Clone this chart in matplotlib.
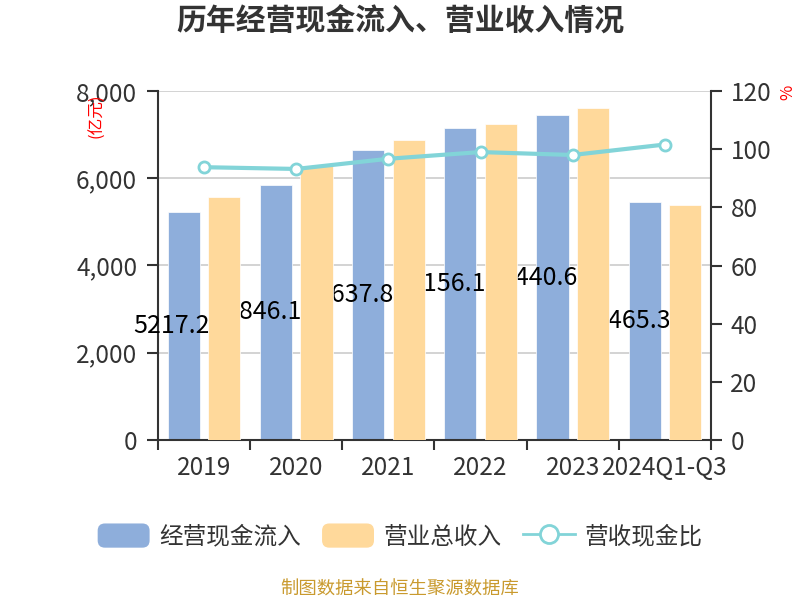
import numpy as np
import matplotlib
matplotlib.use('Agg')
import matplotlib.pyplot as plt
from matplotlib.patches import Patch, FancyBboxPatch
from matplotlib.lines import Line2D
from matplotlib.legend_handler import HandlerPatch
from matplotlib.ticker import FuncFormatter

plt.rcParams['font.family'] = ['Noto Sans CJK SC', 'DejaVu Sans']

# 数据
years = ['2019', '2020', '2021', '2022', '2023', '2024Q1-Q3']
cash_in = [5217.20, 5846.16, 6637.87, 7156.19, 7440.68, 5465.30]
revenue = [5570, 6280, 6870, 7240, 7605, 5385]
ratio = [93.8, 93.2, 96.7, 99.0, 98.0, 101.6]
cash_labels = ['5217.20', '5846.16', '6637.87', '7156.19', '7440.68', '5465.30']

c_blue = '#8eaedb'
c_orange = '#ffd99b'
c_teal = '#82d4d8'
c_axis = '#333333'

fig = plt.figure(figsize=(8, 6), dpi=100)
ax = fig.add_axes([158/800, 160/600, (711-158)/800, (440-91)/600])

x = np.arange(len(years))
w = 0.35
off = 0.22
ax.bar(x - off, cash_in, w, color=c_blue, edgecolor='white', linewidth=0.5, zorder=2)
ax.bar(x + off, revenue, w, color=c_orange, edgecolor='white', linewidth=0.5, zorder=4)

# 数值标签（被后面的柱子遮挡）
for i in range(len(years)):
    ax.text(x[i] - off - 0.55, cash_in[i] / 2, cash_labels[i], ha='left', va='center',
            fontsize=18, color='black', zorder=3)

ax.set_xlim(-0.5, len(years) - 0.5)
ax.set_ylim(0, 8000)
ax.set_yticks([0, 2000, 4000, 6000, 8000])
ax.yaxis.set_major_formatter(FuncFormatter(lambda v, p: format(int(v), ',')))
ax.set_xticks(x)
ax.set_xticklabels(years)
ax.set_xticks(np.arange(-0.5, len(years)), minor=True)
ax.tick_params(axis='x', which='major', length=0, pad=11, labelsize=17.5, labelcolor=c_axis)
ax.tick_params(axis='x', which='minor', length=7, width=1.5, color=c_axis)
ax.tick_params(axis='y', length=8, width=1.5, color=c_axis, labelsize=17.5, labelcolor=c_axis, pad=7)
ax.yaxis.grid(True, color='#cccccc', linewidth=1.2, zorder=0)
ax.set_axisbelow(True)
for s in ['top', 'right']:
    ax.spines[s].set_visible(False)
for s in ['left', 'bottom']:
    ax.spines[s].set_color(c_axis)
    ax.spines[s].set_linewidth(1.5)

ax2 = ax.twinx()
ax2.plot(x, ratio, color=c_teal, linewidth=3, marker='o', markersize=8,
         markerfacecolor='white', markeredgecolor=c_teal, markeredgewidth=2, zorder=5)
ax2.set_ylim(0, 120)
ax2.set_yticks(np.arange(0, 121, 20))
ax2.tick_params(axis='y', length=8, width=1.5, color=c_axis, labelsize=17.5, labelcolor=c_axis, pad=6)
for s in ['top', 'left', 'bottom']:
    ax2.spines[s].set_visible(False)
ax2.spines['right'].set_color(c_axis)
ax2.spines['right'].set_linewidth(1.5)

# 标题与单位
fig.text(0.5, 1 - 22/600, '历年经营现金流入、营业收入情况', ha='center', va='center',
         fontsize=21.5, fontweight='bold', color=c_axis)
fig.text(97/800, 1 - 116/600, '(亿元)', ha='center', va='center', rotation=90,
         fontsize=12, color='red')
fig.text(788/800, 1 - 92/600, '%', ha='center', va='center', rotation=90,
         fontsize=12, color='red')
fig.text(0.5, 1 - 590/600, '制图数据来自恒生聚源数据库', ha='center', va='center',
         fontsize=13.2, color='#c99a2e')


class RoundHandler(HandlerPatch):
    def create_artists(self, legend, orig_handle, xdescent, ydescent, width, height, fontsize, trans):
        p = FancyBboxPatch((-xdescent, -ydescent), width, height,
                           boxstyle='round,pad=0,rounding_size=%f' % (height * 0.3),
                           facecolor=orig_handle.get_facecolor(), edgecolor='none', transform=trans)
        return [p]


handles = [Patch(facecolor=c_blue), Patch(facecolor=c_orange),
           Line2D([], [], color=c_teal, linewidth=2, marker='o', markersize=13,
                  markerfacecolor='white', markeredgecolor=c_teal, markeredgewidth=2)]
labels = ['经营现金流入', '营业总收入', '营收现金比']
fig.legend(handles, labels, loc='center', bbox_to_anchor=(0.5, 1 - 536/600), ncol=3,
           frameon=False, fontsize=17, handlelength=2.2, handleheight=1.2,
           handletextpad=0.4, columnspacing=0.9, labelcolor=c_axis,
           handler_map={Patch: RoundHandler()})

fig.savefig('out.png', dpi=100)
